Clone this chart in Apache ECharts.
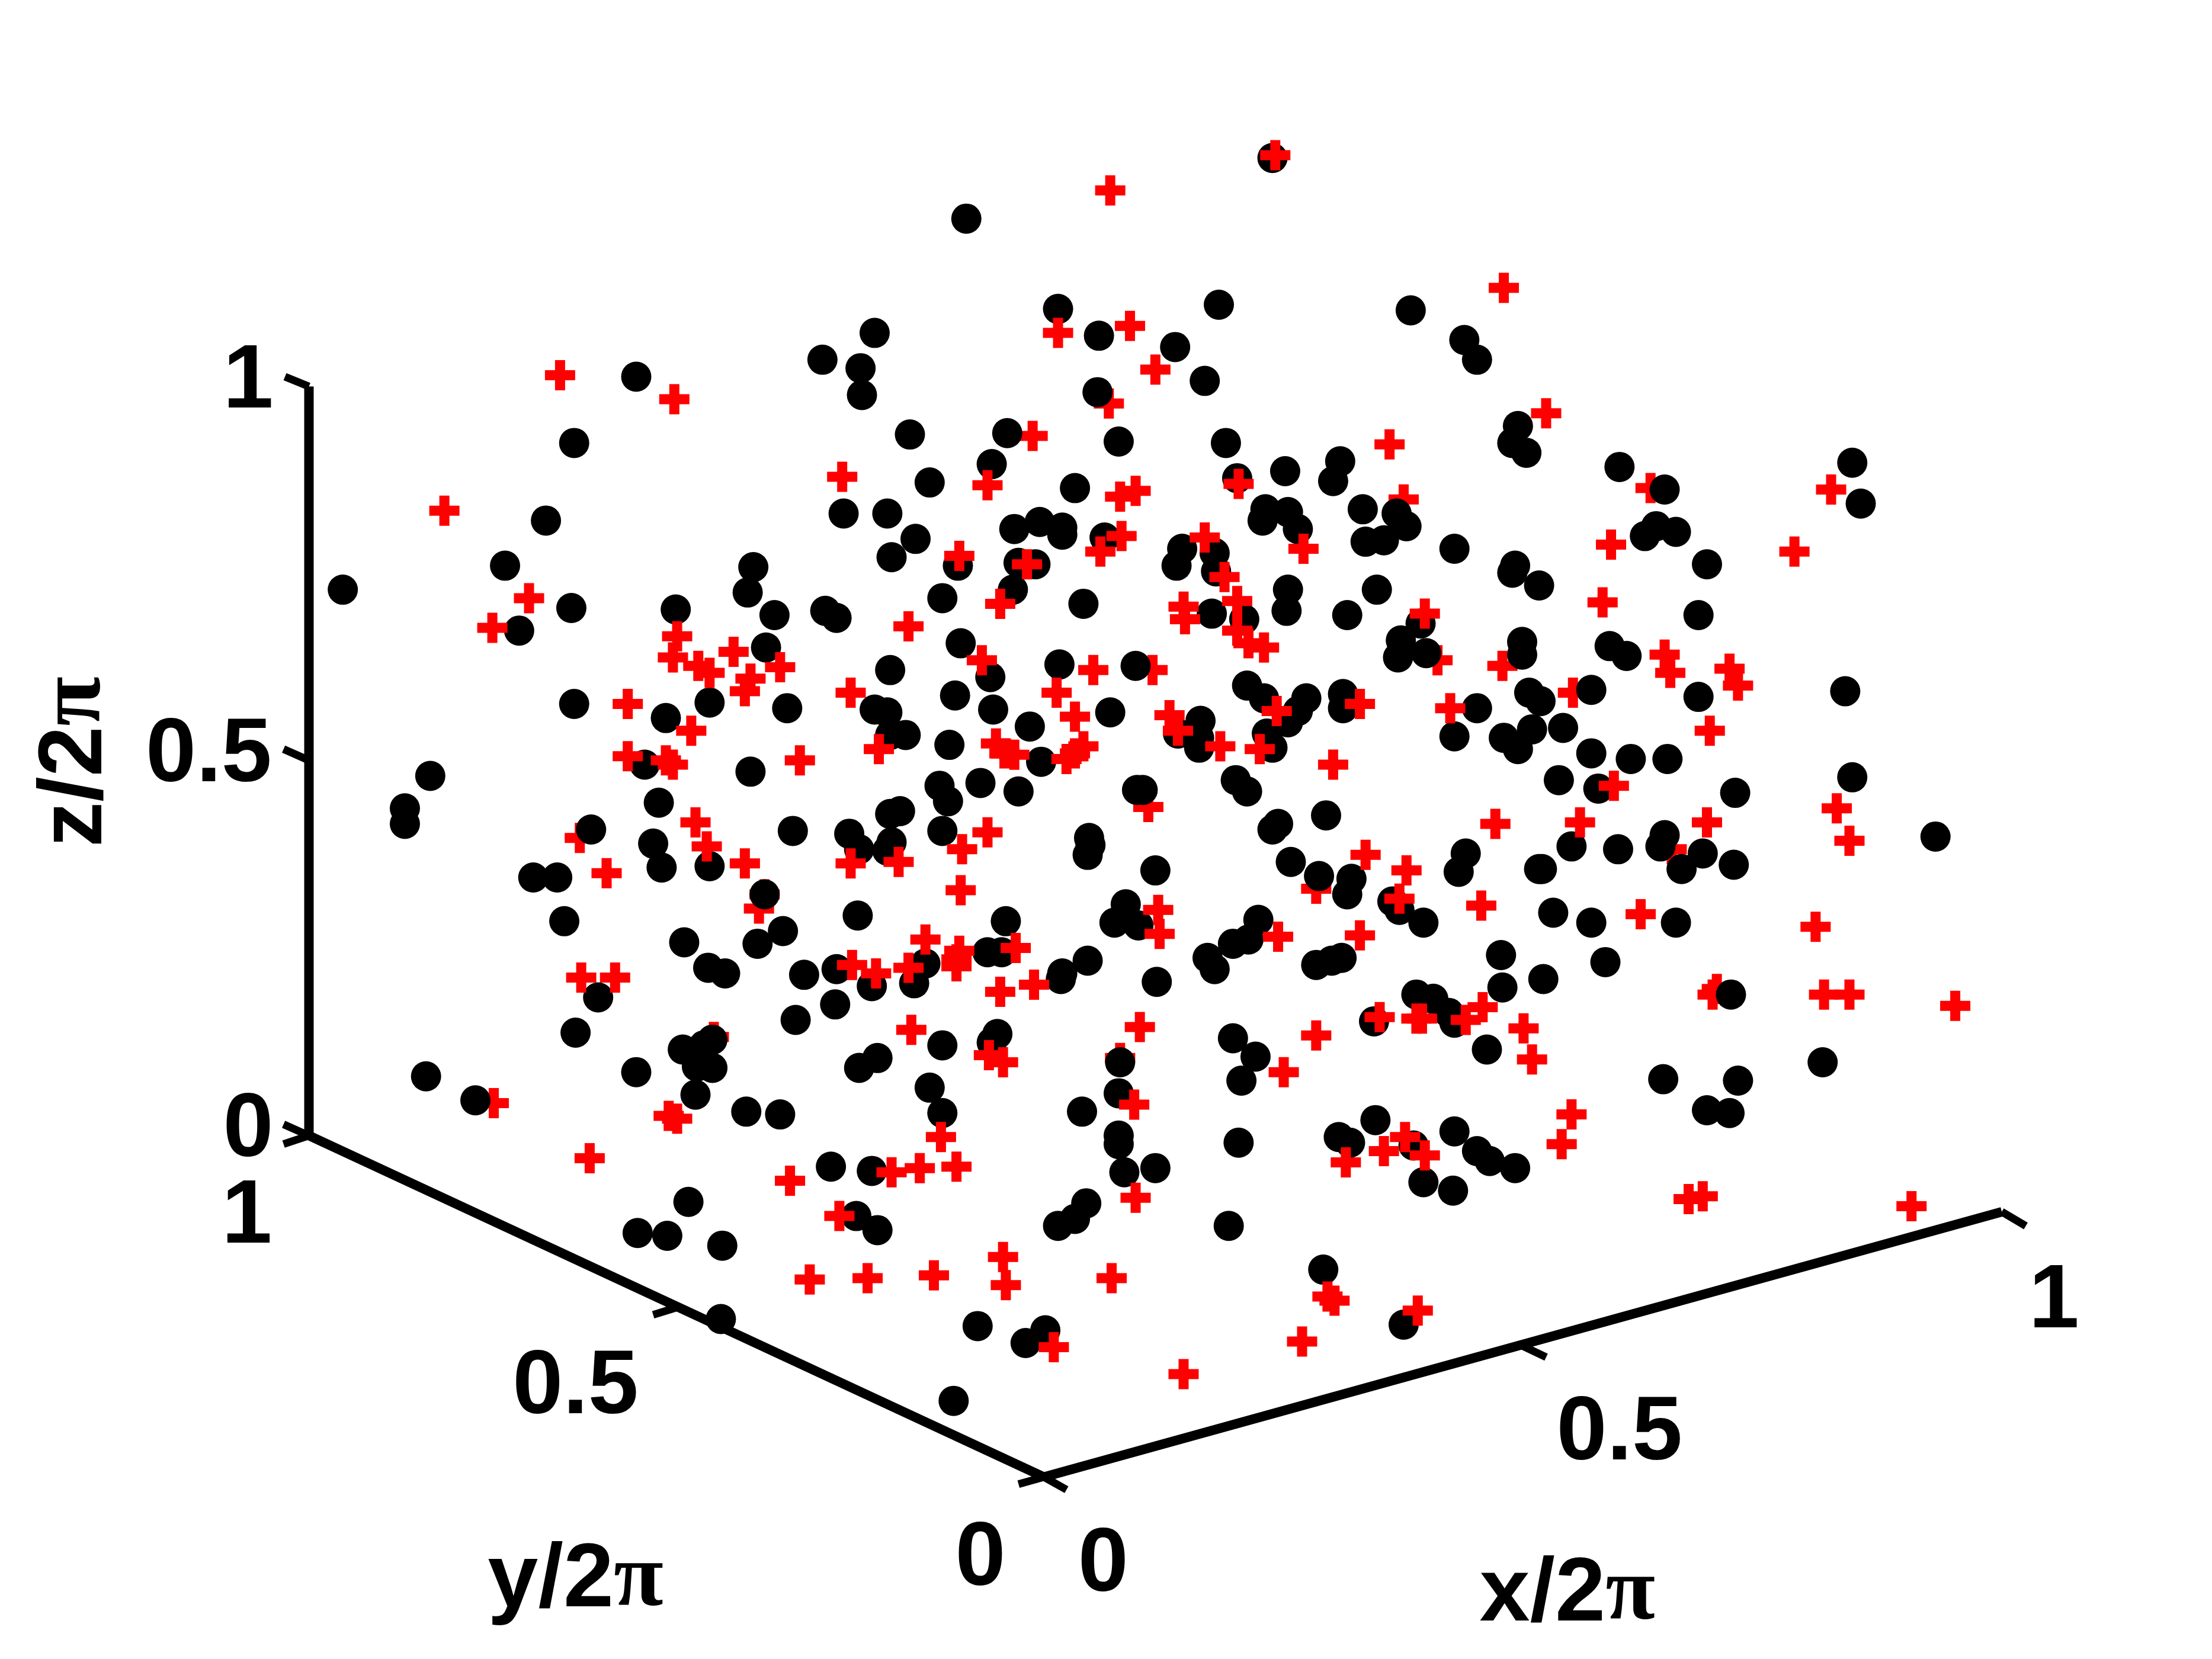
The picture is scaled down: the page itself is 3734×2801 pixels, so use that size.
<!DOCTYPE html>
<html>
<head>
<meta charset="utf-8">
<title>3D scatter projected view</title>
<style>html,body{margin:0;padding:0;background:#fff}#chart{width:3734px;height:2801px}</style>
<script src="https://cdn.jsdelivr.net/npm/echarts@6/dist/echarts.min.js"></script>
</head>
<body>
<div id="chart"></div>
<script>
const planeWidth = 1568;
const planeHeight = 1176;

const blackPoints = [
[902,112],[685,155],[750,219],[779,238],[864,216],[833,246],[854,270],[1000,220],[1038,241],[1047,255],[778,278],[645,308],[714,307],[703,329],[793,313],[869,314],[950,327],[945,341],[911,334],[877,339],[1076,302],[1072,314],[1082,321],[659,342],[762,346],[629,364],[649,382],[632,395],[679,401],[719,375],[737,370],[753,374],[753,379],[783,381],[897,361],[913,363],[895,369],[920,375],[838,389],[834,401],[861,392],[862,405],[966,361],[990,364],[997,373],[968,384],[981,383],[1031,389],[1074,401],[1072,406],[1091,415],[722,399],[734,400],[718,418],[913,418],[976,418],[668,424],
[451,267],[407,314],[387,369],[358,401],[243,418],[583,255],[610,261],[611,280],[620,236],[598,364],[534,402],[530,420],
[1148,331],[1180,347],[1174,373],[1166,380],[1188,377],[1210,400],[1313,328],[1319,357],[1204,436],[1079,455],[1079,464],[1141,458],[1153,465],[1084,491],[1092,497],[1128,489],[1204,494],[1308,490],
[405,431],[479,432],[368,447],[549,436],[585,433],[593,438],[543,459],[631,475],[407,499],[472,509],[503,498],[558,502],[620,503],[629,505],[631,521],[642,521],[673,528],[457,542],[532,547],[305,550],[287,573],[287,584],[467,569],[666,557],[672,568],[562,589],[419,588],[638,575],[631,577],[668,589],[463,598],[469,615],[602,591],[609,602],[632,597],[629,603],[503,614],[378,622],[395,622],[542,634],[400,653],[608,649],[485,668],[537,669],[555,660],[502,686],[514,690],[570,691],[593,687],[656,683],[618,699],[648,697],[424,707],[592,712],[564,723],[408,732],[668,741],[505,737],[484,744],[494,745],[498,750],[302,763],[451,760],[622,750],[609,757],
[768,428],[859,435],[882,439],[912,433],[955,436],[1007,442],[993,454],[991,466],[1011,463],[681,456],[702,480],[751,471],[805,472],[677,493],[704,503],[730,515],[787,505],[738,540],[695,555],[722,561],[884,486],[896,495],[926,495],[920,504],[952,492],[952,502],[913,512],[898,520],[902,530],[851,511],[850,523],[850,530],[835,520],[1047,502],[1031,522],[1086,517],[1066,523],[1076,531],[806,560],[810,560],[876,553],[884,561],[906,584],[902,588],[940,578],[772,594],[773,599],[771,606],[819,617],[1039,605],[1034,618],[1091,616],[915,611],[935,621],[958,623],[955,634],[987,639],[992,645],[1009,654],[798,641],[790,654],[807,656],[713,653],[700,675],[710,675],[892,652],[885,666],[874,669],[856,679],[861,687],[933,684],[944,681],[951,679],[771,681],[753,690],[752,694],[820,696],[1064,677],[1065,700],[1004,705],[1016,708],[1027,718],[1031,725],[974,724],[1054,744],[707,733],[874,736],[890,749],[794,753],
[1108,516],[1128,534],[1156,538],[1182,538],[1105,553],[1133,559],[1230,562],[1313,551],[1180,592],[1177,600],[1207,605],[1192,616],[1229,613],[1114,600],[1147,602],[1093,616],[1372,593],[1101,647],[1128,654],[1188,654],[1138,682],[1094,694],[1227,705],[1179,765],[1232,766],[1292,753],[1210,787],[1226,789],
[337,780],[499,741],[494,756],[505,757],[493,776],[529,788],[553,790],[659,771],[668,789],[589,827],[618,830],[607,862],[622,872],[488,852],[452,874],[473,876],[512,883],[511,935],[693,940],[676,993],[703,739],[880,766],[793,775],[767,788],[793,805],[793,811],[797,831],[819,828],[878,810],[770,853],[762,864],[750,869],[871,869],[975,794],[949,806],[957,810],[1002,812],[1031,802],[1047,816],[1056,823],[1074,828],[1009,838],[1030,844],[938,900],[995,939],[741,943],[727,952]
];

// Red crosses that sit behind the black dots
const redBehindPoints = [
[786,286],[1019,468],[411,594],[542,634],[538,644],[814,572],[933,630],[1170,346],[1185,602],[1214,705],[1217,701],[506,735],[794,750],[1115,491],[995,354],[1065,472],[817,475],[732,309],[350,782]
];

// Red crosses drawn over the black dots
const redFrontPoints = [
[904,110],[787,135],[1066,204],[750,236],[801,231],[819,262],[985,315],[700,344],[794,352],[805,348],[878,343],[854,381],[924,389],[795,380],[780,391],[680,394],[728,400],[868,409],[1096,293],[397,266],[478,283],[597,338],[315,362],[375,424],[1298,347],[1142,386],[1272,391],[1136,427],[1180,464],[1184,477],[1226,474],[1232,486],[349,445],[480,451],[477,466],[520,462],[495,472],[503,477],[532,481],[553,473],[528,490],[603,491],[644,444],[445,499],[490,518],[567,539],[623,531],[445,536],[472,539],[477,542],[493,583],[501,600],[430,619],[528,612],[603,612],[637,611],[681,631],[656,666],[604,684],[621,690],[644,686],[678,680],[412,693],[436,693],[646,730],[709,428],[839,430],[840,439],[877,426],[877,447],[885,456],[896,459],[1010,435],[696,468],[775,475],[749,491],[762,508],[706,527],[712,534],[719,535],[756,538],[768,529],[762,534],[829,507],[835,518],[865,529],[905,504],[893,531],[964,499],[1028,502],[945,542],[700,590],[682,602],[1060,584],[968,606],[997,617],[992,637],[1050,642],[821,645],[822,662],[720,672],[680,674],[678,685],[906,664],[964,663],[709,703],[733,698],[808,728],[933,734],[978,721],[1004,722],[1008,722],[1039,723],[1051,714],[1080,729],[1086,751],[701,748],[711,753],[910,760],[1212,518],[1120,583],[1144,557],[1210,583],[1302,573],[1311,596],[1163,648],[1287,657],[1293,705],[1311,705],[1386,713],[1114,790],[474,791],[480,793],[418,821],[560,837],[632,831],[652,828],[678,827],[667,806],[595,862],[574,907],[615,906],[662,904],[711,891],[713,911],[804,783],[1107,811],[996,806],[981,816],[1010,819],[954,824],[805,849],[788,906],[941,919],[946,922],[1005,929],[923,951],[747,955],[839,974],[1197,850],[1207,848],[1355,855]
];

// Box edges of the projected axes
const zAxisEdge = [[219,274],[219,805]];
const yAxisEdge = [[219,805],[740,1047]];
const xAxisEdge = [[740,1047],[1419,859]];

// Tick marks
const zTicks = [[[202,267],[219,274]],[[201,531],[219,539]],[[201,797],[219,805]]];
const yTicks = [[[201,811],[219,805]],[[463,932],[479,927]],[[722,1052],[740,1047]]];
const xTicks = [[[740,1047],[756,1056]],[[1079,954],[1096,962]],[[1419,859],[1436,869]]];

// Text: tick labels and axis names
const tickLabels = [
  {text:'1',   at:[176,271]},
  {text:'0.5', at:[148,536]},
  {text:'0',   at:[176,802]},
  {text:'1',   at:[175,863]},
  {text:'0.5', at:[408,984]},
  {text:'0',   at:[695,1106]},
  {text:'0',   at:[782,1110]},
  {text:'0.5', at:[1148,1017]},
  {text:'1',   at:[1456,923]}
];
const axisNames = [
  {name:'x/2', at:[1111,1131], rotate:0},
  {name:'y/2', at:[408,1121], rotate:0},
  {name:'z/2', at:[54,540], rotate:90}
];

const crossPath = 'path://M17 0H34V17H51V34H34V51H17V34H0V17H17Z';
const tickFont = 'Liberation Sans';
const textColor = '#000000';

function segment(points, width) {
  return {
    type: 'line', data: points, showSymbol: false, symbol: 'none', silent: true, animation: false,
    lineStyle: {color: '#000', width: width, cap: 'butt', join: 'miter'}, z: 1, clip: false
  };
}
function scatter(points, symbol, size, color, z) {
  return {
    type: 'scatter', data: points, symbol: symbol, symbolSize: size, silent: true, animation: false,
    itemStyle: {color: color, opacity: 1}, z: z, clip: false
  };
}

const option = {
  animation: false,
  backgroundColor: '#ffffff',
  grid: {left: 0, right: 0, top: 0, bottom: 0},
  xAxis: {type: 'value', min: 0, max: planeWidth, show: false},
  yAxis: {type: 'value', min: 0, max: planeHeight, inverse: true, show: false},
  series: [
    segment(zAxisEdge, 16), segment(yAxisEdge, 16), segment(xAxisEdge, 16),
    ...zTicks.map(t => segment(t, 13)), ...yTicks.map(t => segment(t, 13)), ...xTicks.map(t => segment(t, 13)),
    scatter(redBehindPoints, crossPath, 51, '#ff0000', 2),
    scatter(blackPoints, 'circle', 51, '#000000', 3),
    scatter(redFrontPoints, crossPath, 51, '#ff0000', 4),
    {
      type: 'scatter', silent: true, animation: false, symbol: 'circle', symbolSize: 0, z: 5,
      itemStyle: {color: '#000000', opacity: 0},
      data: tickLabels.map(d => ({
        value: d.at,
        label: {
          show: true, position: 'inside', formatter: d.text, color: textColor, opacity: 1,
          fontFamily: tickFont, fontWeight: 'bold', fontSize: 153,
          align: 'center', verticalAlign: 'middle'
        }
      }))
    },
    {
      type: 'scatter', silent: true, animation: false, symbol: 'circle', symbolSize: 0, z: 5,
      itemStyle: {color: '#000000', opacity: 0},
      data: axisNames.map(d => ({
        value: d.at,
        label: {
          show: true, position: 'inside', formatter: '{a|' + d.name + '}{b|\u03C0}', rotate: d.rotate,
          color: textColor, opacity: 1, align: 'center', verticalAlign: 'middle',
          rich: {
            a: {fontFamily: tickFont, fontWeight: 'bold', fontSize: 153, color: textColor},
            b: {fontFamily: 'Liberation Serif', fontWeight: 'bold', fontSize: 153, color: textColor}
          }
        }
      }))
    }
  ]
};

const chart = echarts.init(document.getElementById('chart'), null, {renderer: 'canvas', width: 3734, height: 2801});
chart.setOption(option);
</script>
</body>
</html>
